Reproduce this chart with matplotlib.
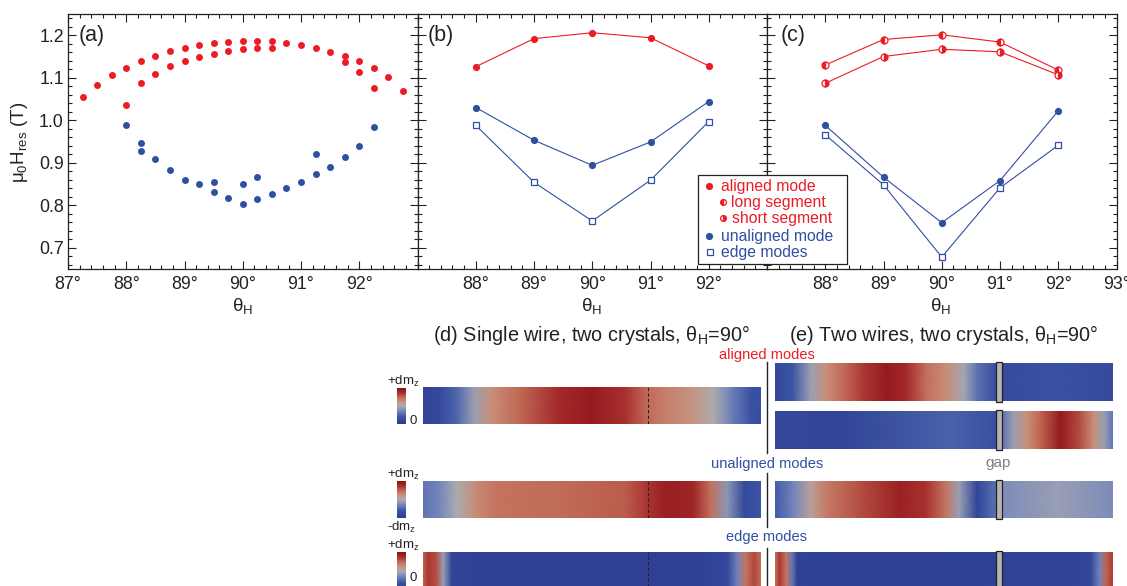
import numpy as np
import matplotlib
matplotlib.use('Agg')
import matplotlib.pyplot as plt
from matplotlib.colors import LinearSegmentedColormap
from matplotlib.lines import Line2D
from matplotlib.patches import Rectangle
from matplotlib.cm import ScalarMappable
from matplotlib.ticker import MultipleLocator, FuncFormatter

plt.rcParams['font.family'] = ['Liberation Sans', 'DejaVu Sans']
plt.rcParams['mathtext.fontset'] = 'custom'
plt.rcParams['mathtext.rm'] = 'Liberation Sans'
plt.rcParams['mathtext.it'] = 'Liberation Sans'
plt.rcParams['mathtext.bf'] = 'Liberation Sans:bold'

RED = '#ec1c24'
BLUE = '#2f4fa2'

# ---- panel (a): measured resonance fields vs angle
a_red_x = [87.25, 87.5, 87.75, 88, 88, 88.25, 88.25, 88.5, 88.5, 88.75, 88.75,
           89, 89, 89.25, 89.25, 89.5, 89.5, 89.75, 89.75, 90, 90, 90.25, 90.25,
           90.5, 90.5, 90.75, 91, 91.25, 91.5, 91.75, 91.75, 92, 92, 92.25, 92.25,
           92.5, 92.75]
a_red_y = [1.054, 1.084, 1.106, 1.124, 1.037, 1.139, 1.087, 1.152, 1.110, 1.162, 1.127,
           1.170, 1.140, 1.177, 1.149, 1.182, 1.157, 1.185, 1.162, 1.187, 1.167, 1.187, 1.169,
           1.186, 1.170, 1.181, 1.177, 1.170, 1.160, 1.151, 1.136, 1.139, 1.114, 1.123, 1.076,
           1.102, 1.070]
a_blue_x = [88, 88.25, 88.25, 88.5, 88.75, 89, 89.25, 89.5, 89.5, 89.75, 90, 90,
            90.25, 90.25, 90.5, 90.75, 91, 91.25, 91.25, 91.5, 91.75, 92, 92.25]
a_blue_y = [0.988, 0.946, 0.928, 0.908, 0.882, 0.859, 0.849, 0.855, 0.832, 0.818, 0.850, 0.802,
            0.866, 0.814, 0.827, 0.841, 0.855, 0.920, 0.873, 0.891, 0.913, 0.940, 0.983]

# ---- panel (b): single wire simulation
b_x = [88, 89, 90, 91, 92]
b_aligned = [1.126, 1.192, 1.206, 1.194, 1.128]
b_unaligned = [1.030, 0.953, 0.894, 0.949, 1.044]
b_edge = [0.988, 0.854, 0.763, 0.859, 0.997]

# ---- panel (c): two wires simulation
c_x = [88, 89, 90, 91, 92]
c_long = [1.130, 1.190, 1.201, 1.184, 1.118]
c_short = [1.087, 1.150, 1.167, 1.161, 1.107]
c_unaligned = [0.988, 0.866, 0.759, 0.858, 1.022]
c_edge = [0.966, 0.848, 0.678, 0.841, 0.941]

# ---- mode profiles (position along wire 0..1, value 0 = blue .. 1 = red)
d_aligned_x = [0, 0.05, 0.1, 0.15, 0.2, 0.3, 0.4, 0.5, 0.6, 0.66, 0.72, 0.8, 0.86, 0.92, 0.97, 1.0]
d_aligned_v = [0.08, 0.12, 0.25, 0.45, 0.62, 0.76, 0.88, 0.95, 0.86, 0.74, 0.67, 0.6, 0.5, 0.32, 0.18, 0.15]
d_unal_x = [0, 0.05, 0.1, 0.16, 0.22, 0.4, 0.6, 0.66, 0.72, 0.8, 0.85, 0.9, 0.95, 1.0]
d_unal_v = [0.3, 0.36, 0.5, 0.64, 0.71, 0.73, 0.77, 0.85, 0.93, 0.9, 0.72, 0.42, 0.12, 0.2]
d_edge_x = [0, 0.015, 0.04, 0.06, 0.085, 0.2, 0.5, 0.8, 0.9, 0.93, 0.955, 0.98, 1.0]
d_edge_v = [0.75, 0.85, 0.8, 0.45, 0.08, 0.04, 0.04, 0.05, 0.1, 0.35, 0.7, 0.82, 0.72]

e1_left_x = [0, 0.08, 0.16, 0.23, 0.32, 0.4, 0.5, 0.59, 0.68, 0.77, 0.85, 0.91, 1.0]
e1_left_v = [0.1, 0.2, 0.45, 0.62, 0.75, 0.85, 0.95, 0.88, 0.72, 0.63, 0.48, 0.3, 0.12]
e1_right_x = [0, 0.5, 1.0]
e1_right_v = [0.13, 0.18, 0.12]
e2_left_x = [0, 0.3, 0.8, 1.0]
e2_left_v = [0.1, 0.08, 0.24, 0.16]
e2_right_x = [0, 0.11, 0.23, 0.35, 0.53, 0.71, 0.83, 0.92, 1.0]
e2_right_v = [0.28, 0.45, 0.62, 0.75, 0.95, 0.8, 0.62, 0.45, 0.3]
e3_left_x = [0, 0.08, 0.16, 0.23, 0.38, 0.56, 0.68, 0.77, 0.83, 0.91, 0.97, 1.0]
e3_left_v = [0.22, 0.35, 0.55, 0.68, 0.8, 0.92, 0.86, 0.7, 0.45, 0.08, 0.25, 0.3]
e3_right_x = [0, 0.5, 1.0]
e3_right_v = [0.38, 0.45, 0.38]
e4_left_x = [0, 0.02, 0.05, 0.08, 0.1, 0.5, 1.0]
e4_left_v = [0.7, 0.85, 0.7, 0.3, 0.06, 0.05, 0.06]
e4_right_x = [0, 0.6, 0.8, 0.88, 0.94, 1.0]
e4_right_v = [0.06, 0.06, 0.1, 0.35, 0.75, 0.85]

cmap = LinearSegmentedColormap.from_list('dmz', [
    (0.0, '#2b3a8f'), (0.2, '#3d55a5'), (0.35, '#7183bb'), (0.5, '#acacb0'),
    (0.62, '#c9907a'), (0.75, '#c06652'), (0.88, '#a42a2a'), (1.0, '#8a1018')])

W, H = 1127, 586
fig = plt.figure(figsize=(W / 100, H / 100), dpi=100)


def box(x0, y0, x1, y1):
    return [x0 / W, 1 - y1 / H, (x1 - x0) / W, (y1 - y0) / H]


def fx(x):
    return x / W


def fy(y):
    return 1 - y / H


def style(ax, lo, hi, ylabels):
    ax.set_xlim(87, 93)
    ax.set_ylim(0.65, 1.25)
    ax.xaxis.set_major_locator(MultipleLocator(1))
    ax.xaxis.set_minor_locator(MultipleLocator(0.2))
    ax.yaxis.set_major_locator(MultipleLocator(0.1))
    ax.yaxis.set_minor_locator(MultipleLocator(0.02))
    ax.tick_params(which='both', direction='in', top=True, right=True,
                   width=0.8, color='#222222', labelsize=12.8, labelcolor='#222222')
    ax.tick_params(which='major', length=6)
    ax.tick_params(which='minor', length=3)
    ax.tick_params(axis='x', pad=5)
    ax.tick_params(axis='y', pad=3)
    ax.xaxis.set_major_formatter(FuncFormatter(
        lambda v, p: f'{v:.0f}°' if lo <= round(v) <= hi else ''))
    if ylabels:
        ax.yaxis.set_major_formatter(FuncFormatter(
            lambda v, p: f'{v:.1f}' if 0.69 < v < 1.21 else ''))
    else:
        ax.set_yticklabels([])
    for s in ax.spines.values():
        s.set_linewidth(0.9)
        s.set_color('#222222')


ax_a = fig.add_axes(box(68, 14, 417.5, 269))
ax_b = fig.add_axes(box(417.5, 14, 767, 269))
ax_c = fig.add_axes(box(767, 14, 1116.5, 269))
style(ax_a, 87, 92, True)
style(ax_b, 88, 92, False)
style(ax_c, 88, 93, False)

ax_a.plot(a_red_x, a_red_y, 'o', color=RED, ms=5.0, mec='none')
ax_a.plot(a_blue_x, a_blue_y, 'o', color=BLUE, ms=5.0, mec='none')

ax_b.plot(b_x, b_aligned, '-o', color=RED, lw=0.8, ms=5.2, mec='none')
ax_b.plot(b_x, b_unaligned, '-o', color=BLUE, lw=0.8, ms=5.2, mec='none')
ax_b.plot(b_x, b_edge, '-s', color=BLUE, lw=0.8, ms=4.3, mfc='white', mew=0.9)

ax_c.plot(c_x, c_long, '-o', color=RED, lw=0.8, ms=5.0, fillstyle='left',
          markerfacecoloralt='white', mew=0.9)
ax_c.plot(c_x, c_short, '-o', color=RED, lw=0.8, ms=5.0, fillstyle='right',
          markerfacecoloralt='white', mew=0.9)
ax_c.plot(c_x, c_unaligned, '-o', color=BLUE, lw=0.8, ms=5.2, mec='none')
ax_c.plot(c_x, c_edge, '-s', color=BLUE, lw=0.8, ms=4.3, mfc='white', mew=0.9)

# panel labels and axis labels
for x, lab in [(79, '(a)'), (428, '(b)'), (781, '(c)')]:
    fig.text(fx(x), fy(36), lab, ha='left', va='center', fontsize=15.5, color='#222222')
for x in [243, 592, 941]:
    fig.text(fx(x), fy(306), r'θ$_\mathrm{H}$', ha='center', va='center',
             fontsize=13.5, color='#222222')
fig.text(fx(20), fy(142), r'μ$_\mathrm{0}$H$_\mathrm{res}$ (T)', rotation=90,
         ha='center', va='center', fontsize=13.5, color='#222222')

# legend drawn by hand
fig.add_artist(Rectangle((fx(698), fy(264)), (847 - 698) / W, (264 - 175) / H,
                         transform=fig.transFigure, facecolor='white',
                         edgecolor='#222222', lw=0.9, zorder=5))
leg = [(709, 186, 'aligned mode', RED, dict(marker='o', ms=5.2, mec='none'), 721),
       (723, 202, 'long segment', RED, dict(marker='o', ms=4.2, fillstyle='left',
                                              markerfacecoloralt='white', mew=0.9), 731),
       (723, 218, 'short segment', RED, dict(marker='o', ms=4.2, fillstyle='right',
                                               markerfacecoloralt='white', mew=0.9), 732),
       (709, 236, 'unaligned mode', BLUE, dict(marker='o', ms=5.2, mec='none'), 721),
       (710, 252, 'edge modes', BLUE, dict(marker='s', ms=4.0, mfc='white', mew=0.9), 721)]
for mx, my, lab, col, kw, tx in leg:
    fig.add_artist(Line2D([fx(mx)], [fy(my)], transform=fig.transFigure, color=col,
                          ls='none', zorder=6, **kw))
    fig.text(fx(tx), fy(my), lab, ha='left', va='center', fontsize=11.3, color=col, zorder=6)

# ---- bottom mode images
fig.text(fx(592), fy(335), r'(d) Single wire, two crystals, θ$_\mathrm{H}$=90°',
         ha='center', va='center', fontsize=14.3, color='#222222')
fig.text(fx(944), fy(335), r'(e) Two wires, two crystals, θ$_\mathrm{H}$=90°',
         ha='center', va='center', fontsize=14.3, color='#222222')
fig.text(fx(767), fy(355), 'aligned modes', ha='center', va='center', fontsize=10.5, color=RED)
fig.text(fx(767), fy(464), 'unaligned modes', ha='center', va='center', fontsize=10.5, color=BLUE)
fig.text(fx(767), fy(537), 'edge modes', ha='center', va='center', fontsize=10.5, color=BLUE)
fig.text(fx(998), fy(463), 'gap', ha='center', va='center', fontsize=11, color='#808080')

for y0, y1 in [(362, 453), (473, 527), (548, 590)]:
    fig.add_artist(Line2D([fx(767), fx(767)], [fy(y0), fy(y1)], transform=fig.transFigure,
                          color='#222222', lw=1.0))


def strip(ax, x0, x1, xs, vs):
    xx = x0 + (x1 - x0) * np.asarray(xs)
    X = np.vstack([xx, xx])
    Y = np.vstack([np.zeros_like(xx), np.ones_like(xx)])
    C = np.vstack([vs, vs])
    ax.pcolormesh(X, Y, C, shading='gouraud', cmap=cmap, vmin=0, vmax=1)


def img_axes(x0, y0, x1, y1):
    ax = fig.add_axes(box(x0, y0, x1, y1))
    ax.set_xlim(0, 1)
    ax.set_ylim(0, 1)
    ax.set_axis_off()
    return ax


d_rows = [(387, 424, d_aligned_x, d_aligned_v),
          (481, 518, d_unal_x, d_unal_v),
          (552, 590, d_edge_x, d_edge_v)]
for y0, y1, xs, vs in d_rows:
    ax = img_axes(423, y0, 761, y1)
    strip(ax, 0, 1, xs, vs)
    ax.plot([0.666, 0.666], [0, 1], ls=(0, (3, 2)), color='#222222', lw=0.8)

gap_l = (997 - 775) / 338
gap_r = (1001 - 775) / 338
e_rows = [(363, 401, e1_left_x, e1_left_v, e1_right_x, e1_right_v),
          (411, 449, e2_left_x, e2_left_v, e2_right_x, e2_right_v),
          (481, 518, e3_left_x, e3_left_v, e3_right_x, e3_right_v),
          (552, 590, e4_left_x, e4_left_v, e4_right_x, e4_right_v)]
for y0, y1, lx, lv, rx, rv in e_rows:
    ax = img_axes(775, y0, 1113, y1)
    strip(ax, 0, gap_l, lx, lv)
    strip(ax, gap_r, 1, rx, rv)
    ax.add_patch(Rectangle((gap_l - 0.002, -0.03), gap_r - gap_l + 0.004, 1.06,
                           facecolor='#b4b4b4', edgecolor='#222222', lw=0.9, clip_on=False))

# colour bars
for y0, y1, top, bot in [(388, 424, '+dm', '0'), (481, 518, '+dm', '-dm'), (552, 590, '+dm', '0')]:
    cax = fig.add_axes(box(397, y0, 406, y1))
    cb = fig.colorbar(ScalarMappable(cmap=cmap), cax=cax)
    cb.outline.set_visible(False)
    cax.set_axis_off()
    fig.text(fx(387), fy(y0 - 7), top + r'$_\mathrm{z}$', ha='left', va='center',
             fontsize=9.5, color='#222222')
    if bot == '0':
        fig.text(fx(410), fy(min(y1 - 3, 578)), '0', ha='left', va='center',
                 fontsize=9.5, color='#222222')
    else:
        fig.text(fx(387), fy(y1 + 9), bot + r'$_\mathrm{z}$', ha='left', va='center',
                 fontsize=9.5, color='#222222')

fig.savefig('out.png', dpi=100)
